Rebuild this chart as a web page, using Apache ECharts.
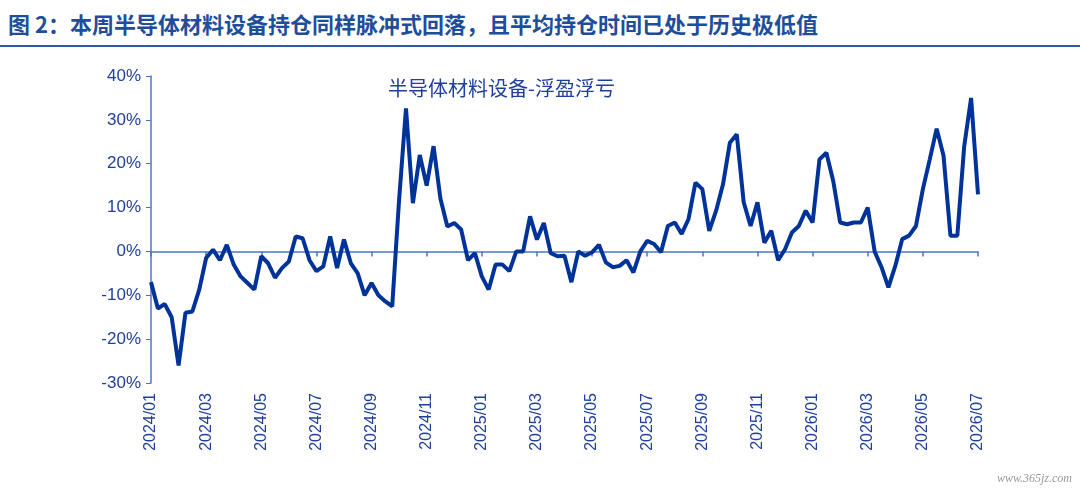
<!DOCTYPE html>
<html>
<head>
<meta charset="utf-8">
<script src="https://cdn.jsdelivr.net/npm/echarts@6/dist/echarts.min.js"></script>
<style>
  html, body { margin: 0; padding: 0; background: #fff; }
  #title { position: absolute; left: 8px; top: 7px; font: bold 22px "Noto Sans CJK SC", sans-serif; color: #1e4d9b; }
  #rule { position: absolute; left: 0; right: 0; top: 45px; height: 2px; background: #2c5aa8; }
  #chart { position: absolute; left: 0; top: 0; width: 1080px; height: 491px; }
</style>
</head>
<body>
<div id="title">图 2：本周半导体材料设备持仓同样脉冲式回落，且平均持仓时间已处于历史极低值</div>
<div id="rule"></div>
<div id="chart"></div>
<script>
// month labels every 2 months, 4 points per month
const months = ['2024/01','2024/02','2024/03','2024/04','2024/05','2024/06','2024/07','2024/08','2024/09','2024/10','2024/11','2024/12',
  '2025/01','2025/02','2025/03','2025/04','2025/05','2025/06','2025/07','2025/08','2025/09','2025/10','2025/11','2025/12',
  '2026/01','2026/02','2026/03','2026/04','2026/05','2026/06','2026/07']

const pnl = [
  -7, -13, -12, -15, -26, -14, -13.7, -8.7, -1.5, 0.4,
  -2, 1.5, -3, -5.7, -7.2, -8.7, -1.1, -2.7, -6, -3.8,
  -2.3, 3.4, 3, -2, -4.5, -3.4, 3.4, -3.8, 2.7, -2.7,
  -5, -10, -7.2, -10, -11.4, -12.5, 11.8, 32.6, 11, 22,
  15, 24, 12, 5.7, 6.5, 5, -2, -0.4, -5.7, -8.7,
  -3, -3, -4.5, 0, 0, 8, 2.7, 6.5, -0.4, -1.1,
  -1, -7, 0, -1, -0.2, 1.5, -2.5, -3.6, -3.3, -2,
  -4.8, 0, 2.4, 1.7, -0.2, 5.8, 6.6, 4, 7.4, 15.7,
  14.2, 4.7, 9.3, 15.3, 24.8, 26.7, 11.2, 5.8, 11.2, 2,
  4.7, -2, 0.5, 4.3, 5.8, 9.3, 6.6, 21, 22.5, 16,
  6.6, 6.2, 6.6, 6.6, 10, 0, -3.6, -8.2, -3.3, 2.8,
  3.6, 5.8, 14.2, 21, 28, 21.8, 3.6, 3.6, 24, 35,
  13
]

const categories = []
months.forEach(function (m, k) {
  const n = k === months.length - 1 ? 1 : 4
  for (let w = 0; w < n; w++) categories.push(w === 0 ? m : m + '-' + w)
})

const blue = '#4a78c8'
const chart = echarts.init(document.getElementById('chart'))
chart.setOption({
  animation: false,
  grid: { left: 151, right: 102, top: 76, bottom: 108 },
  graphic: [
    { type: 'text', left: 388, top: 78, style: { text: '半导体材料设备-浮盈浮亏', fill: '#1e3f9c', font: '20px "Noto Sans CJK SC"' } },
    { type: 'text', right: 8, bottom: 6, style: { text: 'www.365jz.com', fill: '#999', font: 'italic 12px serif' } }
  ],
  xAxis: [{
    type: 'category', data: categories, boundaryGap: false,
    axisLine: { show: true, onZero: true, lineStyle: { color: blue, width: 1.5 } },
    axisTick: { show: true, interval: 7, length: 5, lineStyle: { color: blue, width: 1.5 } },
    axisLabel: { show: false }
  }, {
    type: 'category', data: categories, boundaryGap: false, position: 'bottom', offset: 0,
    axisLine: { show: false, onZero: false }, axisTick: { show: false },
    axisLabel: {
      interval: 7, rotate: 90, margin: 10, color: '#1e3f9c', fontSize: 16,
      fontFamily: 'Liberation Sans, Arial'
    }
  }],
  yAxis: {
    type: 'value', min: -30, max: 40, interval: 10,
    axisLine: { show: true, lineStyle: { color: blue, width: 1.5 } },
    axisTick: { show: true, length: 5, lineStyle: { color: blue } },
    splitLine: { show: false },
    axisLabel: { formatter: '{value}%', color: '#1e3f9c', fontSize: 17, fontFamily: 'Liberation Sans, Arial', margin: 10 }
  },
  series: [{
    type: 'line', data: pnl, xAxisIndex: 0, symbol: 'none', smooth: false,
    lineStyle: { color: '#003399', width: 4 }
  }]
})
</script>
</body>
</html>
